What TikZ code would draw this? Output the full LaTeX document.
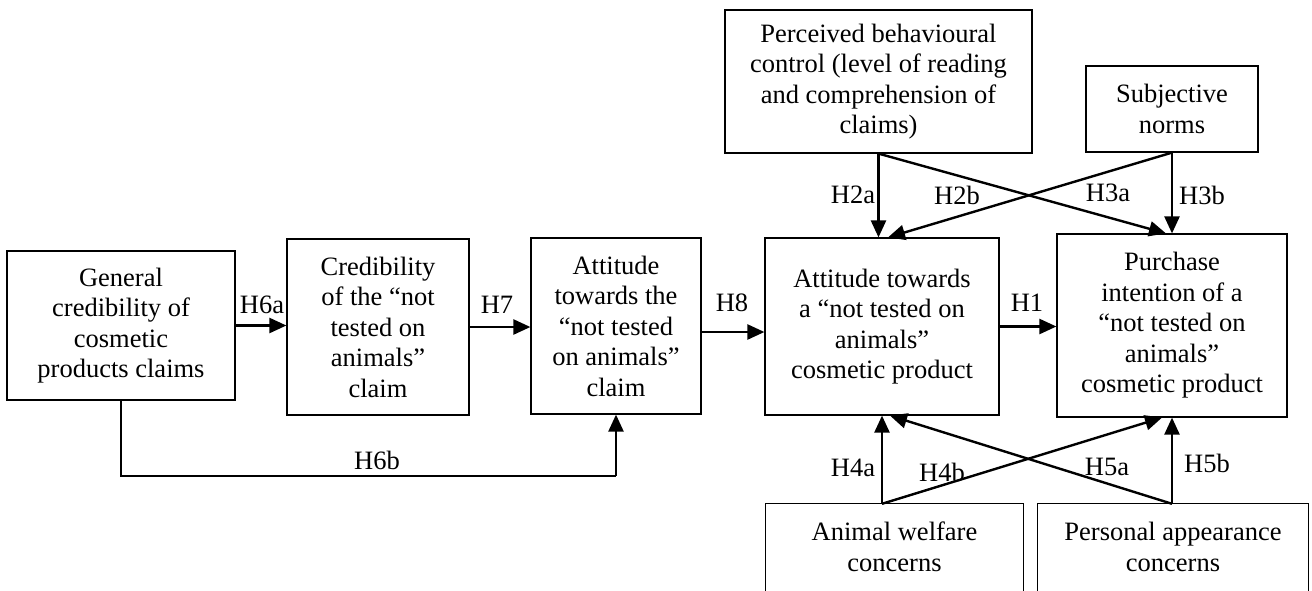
\documentclass[tikz,border=0pt]{standalone}
\usepackage{fontspec}
\setmainfont{Liberation Serif}
\usetikzlibrary{arrows.meta}
\tikzset{
  x=1pt, y=-1pt,
  txtfont/.style={font=\fontsize{26.5pt}{30.5pt}\selectfont},
  box/.style={draw, line width=1.2pt, align=center, inner sep=0pt, txtfont},
  openbox/.style={align=center, inner sep=0pt, txtfont},
  arr/.style={line width=2.4pt, -{Triangle[length=17pt,width=15pt]}},
  thinline/.style={line width=1.2pt},
  lbl/.style={inner sep=0pt, txtfont}
}
\begin{document}
\begin{tikzpicture}
\useasboundingbox (0,0) rectangle (1312,590);
\clip (0,0) rectangle (1312,590);

% main row
\node[box, minimum width=228pt, minimum height=149pt] (b1) at (121,325.5)
  {General\\credibility of\\cosmetic\\products claims};
\node[box, minimum width=182pt, minimum height=176pt] (b2) at (378,327)
  {Credibility\\of the “not\\tested on\\animals”\\claim};
\node[box, minimum width=170pt, minimum height=176pt] (b3) at (616,326)
  {Attitude\\towards the\\“not tested\\on animals”\\claim};
\node[box, minimum width=234pt, minimum height=177pt] (b4) at (882,326.5)
  {Attitude towards\\a “not tested on\\animals”\\cosmetic product};
\node[box, minimum width=230pt, minimum height=183pt] (b5) at (1172,325.5)
  {Purchase\\intention of a\\“not tested on\\animals”\\cosmetic product};

% top row
\node[box, minimum width=307pt, minimum height=143pt] (pbc) at (878.5,81.5)
  {Perceived behavioural\\control (level of reading\\and comprehension of\\claims)};
\node[box, minimum width=172pt, minimum height=86pt] (sn) at (1172,109)
  {Subjective\\norms};

% bottom row (cut by the page edge)
\node[openbox, minimum width=257pt, minimum height=86pt] (aw) at (894.5,547)
  {Animal welfare\\concerns};
\node[openbox, minimum width=270pt, minimum height=86pt] (pa) at (1173,547)
  {Personal appearance\\concerns};
\draw[thinline] ([yshift=-60pt]aw.south west) |- (aw.north east) -- ([yshift=-60pt]aw.south east);
\draw[thinline] ([yshift=-60pt]pa.south west) |- (pa.north east) -- ([yshift=-60pt]pa.south east);

% horizontal chain
\draw[arr] (b1.east) -- (b1.east -| b2.west);
\draw[arr] (b2.east) -- (b2.east -| b3.west);
\draw[arr] ([yshift=-6pt]b3.east) -- ([yshift=-6pt]b3.east -| b4.west);
\draw[arr] (b4.east) -- (b4.east -| b5.west);

% H6b
\coordinate (h6b) at (616,476);
\draw[thinline] (b1.south) |- (h6b);
\draw[arr] (h6b) -- (b3.south);

% top arrows
\draw[arr] (pbc.south) -- (pbc.south |- b4.north);
\draw[arr] (pbc.south) -- ([xshift=-6pt]b5.north);
\draw[arr] (sn.south) -- (sn.south |- b5.north);
\draw[arr] (sn.south) -- ([xshift=6pt]b4.north);

% bottom arrows
\coordinate (awt) at (b4.south |- aw.north);
\coordinate (pat) at (b5.south |- pa.north);
\draw[arr] (awt) -- (b4.south);
\draw[arr] (awt) -- ([xshift=-10pt]b5.south);
\draw[arr] (pat) -- (b5.south);
\draw[arr] (pat) -- ([xshift=8pt]b4.south);

% labels
\node[lbl] (lH6a) at (262,305) {H6a};
\node[lbl] (lH7) at (497,305) {H7};
\node[lbl] (lH8) at (732,303) {H8};
\node[lbl] (lH1) at (1027,303) {H1};
\node[lbl] (lH6b) at (377,460) {H6b};
\node[lbl] (lH2a) at (853,195) {H2a};
\node[lbl] (lH2b) at (957,195) {H2b};
\node[lbl] (lH3a) at (1108,193) {H3a};
\node[lbl] (lH3b) at (1202,195) {H3b};
\node[lbl] (lH4a) at (853,468) {H4a};
\node[lbl] (lH4b) at (942,472) {H4b};
\node[lbl] (lH5a) at (1107,467) {H5a};
\node[lbl] (lH5b) at (1207,463) {H5b};
\end{tikzpicture}
\end{document}
